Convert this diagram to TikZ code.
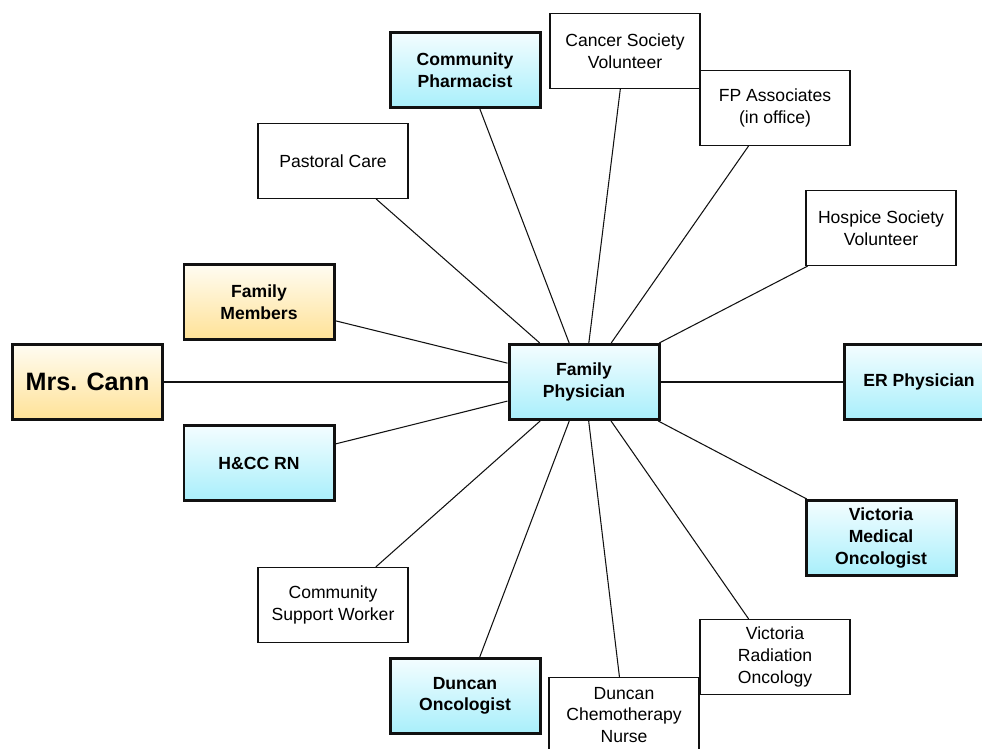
\documentclass[tikz,border=0pt]{standalone}
\usepackage{fontspec}
\setsansfont{Liberation Sans}
\usetikzlibrary{shapes.geometric, positioning, backgrounds}
\definecolor{keytop}{HTML}{F4FDFF}
\definecolor{keybottom}{HTML}{A8EFFB}
\definecolor{famtop}{HTML}{FFFCF2}
\definecolor{fambottom}{HTML}{FFE297}
\definecolor{linecolor}{HTML}{111111}
\tikzset{
  plainbox/.style={
    draw=linecolor,
    fill=white,
    line width=0.6pt,
    align=center,
    font=\sffamily\fontsize{10}{12.3}\selectfont,
    inner sep=2pt,
    minimum width=3cm,
    minimum height=1.5cm
  },
  keybox/.style={
    plainbox,
    line width=1.7pt,
    top color=keytop,
    bottom color=keybottom,
    font=\sffamily\bfseries\fontsize{10}{12.3}\selectfont
  },
  familybox/.style={
    keybox,
    top color=famtop,
    bottom color=fambottom
  },
  link/.style={
    draw=linecolor,
    line width=0.6pt
  }
}
\begin{document}
\begin{tikzpicture}

  \useasboundingbox (0,0) rectangle (19.64,14.96);

  % Centre
  \node (fp) [keybox] at (11.68,7.32) {Family\\Physician};

  % Left side
  \node (cann) [familybox, font=\sffamily\bfseries\fontsize{14.3}{17}\selectfont] at (1.75,7.32) {Mrs. Cann};
  \node (fam) [familybox] at (5.18,8.92) {Family\\Members};
  \node (hcc) [keybox] at (5.18,5.70) {H\&CC RN};

  % Top
  \node (past) [plainbox] at (6.66,11.74) {Pastoral Care};
  \node (pharm) [keybox] at (9.30,13.56) {Community\\Pharmacist};
  \node (csv) [plainbox] at (12.50,13.94) {Cancer Society\\Volunteer};
  \node (fpa) [plainbox] at (15.50,12.80) {FP Associates\\(in office)};
  \node (hosp) [plainbox] at (17.62,10.40) {Hospice Society\\Volunteer};

  % Right side
  \node (er) [keybox] at (18.38,7.32) {ER Physician};
  \node (vmo) [keybox] at (17.62,4.20) {Victoria\\Medical\\Oncologist};

  % Bottom
  \node (dcn) [plainbox] at (12.48,0.66) {Duncan\\Chemotherapy\\Nurse};
  \node (vro) [plainbox] at (15.50,1.82) {Victoria\\Radiation\\Oncology};
  \node (dono) [keybox] at (9.30,1.04) {Duncan\\Oncologist};
  \node (csw) [plainbox] at (6.66,2.86) {Community\\Support Worker};

  % Connectors
  \draw [link] (fp) -- (cann);
  \draw [link] (fp) -- (fam);
  \draw [link] (fp) -- (hcc);
  \draw [link] (fp) -- (past);
  \draw [link] (fp) -- (pharm);
  \draw [link] (fp) -- (csv);
  \draw [link] (fp) -- (fpa);
  \draw [link] (fp) -- (hosp);
  \draw [link] (fp) -- (er);
  \draw [link] (fp) -- (vmo);
  \draw [link] (fp) -- (vro);
  \draw [link] (fp) -- (dcn);
  \draw [link] (fp) -- (dono);
  \draw [link] (fp) -- (csw);

\end{tikzpicture}
\end{document}
